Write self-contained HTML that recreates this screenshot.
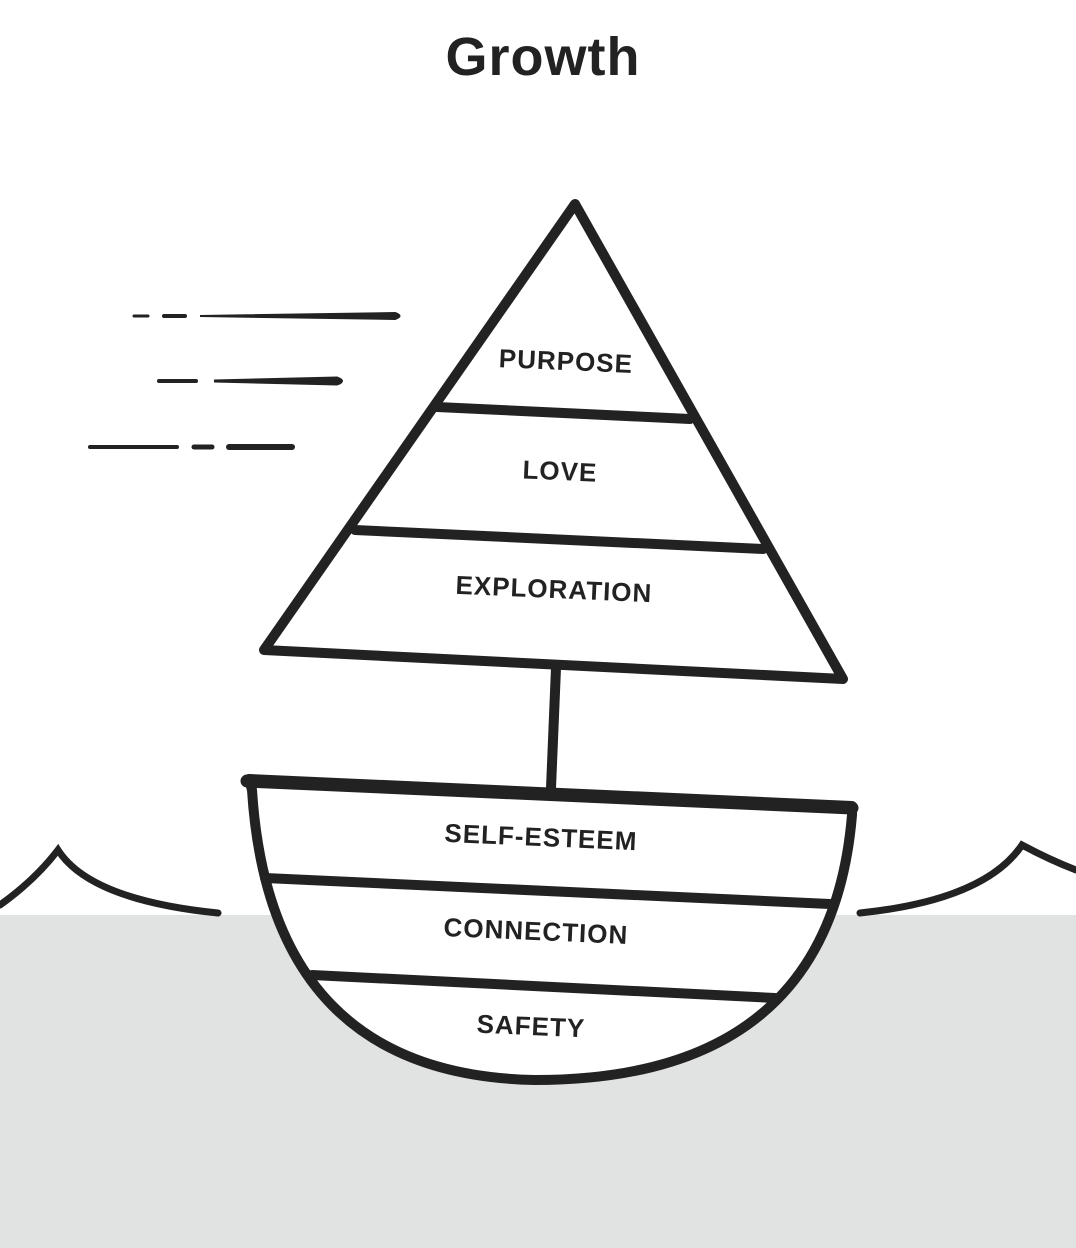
<!DOCTYPE html>
<html><head><meta charset="utf-8"><style>
html,body{margin:0;padding:0;background:#fff;}
svg{display:block;}
text{font-family:"Liberation Sans",sans-serif;font-weight:bold;fill:#222;}
</style></head><body>
<svg width="1076" height="1248" viewBox="0 0 1076 1248" xmlns="http://www.w3.org/2000/svg">
<rect x="0" y="915" width="1076" height="333" fill="#e1e3e2"/>
<text x="543" y="75" font-size="54" text-anchor="middle" letter-spacing="1">Growth</text>
<g stroke="#222" stroke-linecap="round" fill="none">
<line x1="134" y1="316" x2="148" y2="316" stroke-width="3"/>
<line x1="164" y1="316" x2="185" y2="316" stroke-width="4"/>
<path d="M200 316 L395 313 Q404 316 395 319 Z" fill="#222" stroke-width="2"/>
<line x1="159" y1="381" x2="196" y2="381" stroke-width="4"/>
<path d="M214 381 L337 378 Q346 381 337 384 Z" fill="#222" stroke-width="3"/>
<line x1="90" y1="447" x2="177" y2="447" stroke-width="4"/>
<line x1="194" y1="447" x2="212" y2="447" stroke-width="5"/>
<line x1="229" y1="447" x2="292" y2="447" stroke-width="6"/>
<path d="M0 905 Q35 880 58 850 Q90 900 218 913" stroke-width="7"/>
<path d="M860 913 Q985 900 1022 845 Q1050 860 1076 870" stroke-width="7"/>
</g>
<g stroke="#222" stroke-width="10" stroke-linejoin="round" stroke-linecap="round">
<path d="M575 204 L843 679 L264 650 Z" fill="#fff"/>
<line x1="437" y1="407" x2="690" y2="419"/>
<line x1="355" y1="530" x2="763" y2="549"/>
<line x1="556" y1="668" x2="551" y2="788"/>
<path d="M249 779 L852 806 L852 815 Q830 1080 535 1080 Q270 1075 252 790 Z" fill="#fff"/>
<line x1="247" y1="781" x2="852" y2="808" stroke-width="13"/>
<line x1="265" y1="878" x2="830" y2="904"/>
<line x1="312" y1="975" x2="775" y2="998"/>
</g>
<g font-size="26" text-anchor="middle" letter-spacing="1">
<text x="566" y="370" transform="rotate(2.5 566 360)">PURPOSE</text>
<text x="560" y="480" transform="rotate(2.5 560 470)">LOVE</text>
<text x="554" y="598" transform="rotate(2.5 554 588)">EXPLORATION</text>
<text x="541" y="846" transform="rotate(2.5 541 836)">SELF-ESTEEM</text>
<text x="536" y="940" transform="rotate(2.5 536 930)">CONNECTION</text>
<text x="531" y="1035" transform="rotate(2.5 531 1025)">SAFETY</text>
</g>
</svg>
</body></html>
